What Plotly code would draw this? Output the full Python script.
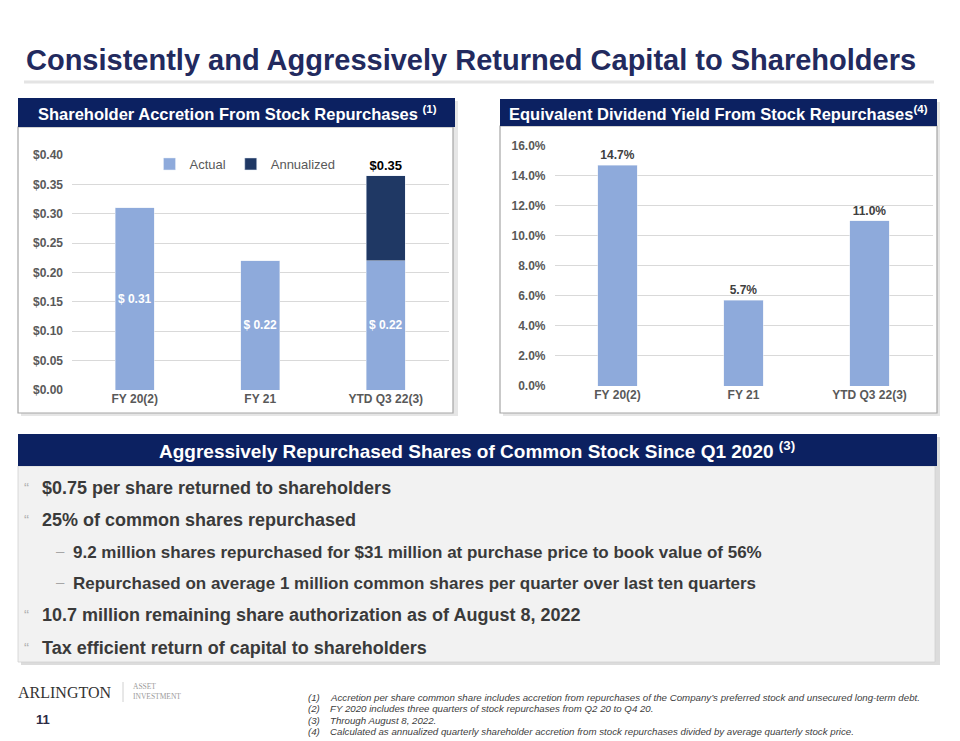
import plotly.graph_objects as go

W, H = 960, 741

# ---------------- data ----------------
categories = ["FY 20(2)", "FY 21", "YTD Q3 22(3)"]
accretion_actual = [0.31, 0.22, 0.22]
accretion_annualized = [None, None, 0.145]
accretion_actual_labels = ["$ 0.31", "$ 0.22", "$ 0.22"]
accretion_total_labels = [None, None, "$0.35"]
yield_pct = [14.7, 5.7, 11.0]
left_ticks = [0.00, 0.05, 0.10, 0.15, 0.20, 0.25, 0.30, 0.35, 0.40]
right_ticks = [0, 2, 4, 6, 8, 10, 12, 14, 16]
left_tick_text = ["$%.2f" % v for v in left_ticks]
right_tick_text = ["%.1f%%" % v for v in right_ticks]

bullets = [
    (0, "$0.75 per share returned to shareholders"),
    (0, "25% of common shares repurchased"),
    (1, "9.2 million shares repurchased for $31 million at purchase price to book value of 56%"),
    (1, "Repurchased on average 1 million common shares per quarter over last ten quarters"),
    (0, "10.7 million remaining share authorization as of August 8, 2022"),
    (0, "Tax efficient return of capital to shareholders"),
]
footnotes = [
    ("(1)", "Accretion per share common share includes accretion from repurchases of the Company\u2019s preferred stock and unsecured long-term debt."),
    ("(2)", "FY 2020 includes three quarters of stock repurchases from Q2 20 to Q4 20."),
    ("(3)", "Through August 8, 2022."),
    ("(4)", "Calculated as annualized quarterly shareholder accretion from stock repurchases divided by average quarterly stock price."),
]

# ---------------- styles ----------------
LIGHT = "#8eaadb"
DARK = "#1f3864"
NAVY = "#0c2161"
TITLE = "#222a5e"
GRID = "#d9d9d9"
TICK = "#595959"
FONT = "Liberation Sans"


def px_x(x):
    return x / W


def px_y(y):
    return 1 - y / H


fig = go.Figure()

fig.add_trace(go.Bar(
    x=categories, y=accretion_actual, name="Actual", marker_color=LIGHT,
    width=0.31, text=accretion_actual_labels, textposition="inside",
    insidetextanchor="middle", constraintext="none", textangle=0,
    textfont=dict(family=FONT, size=12, color="white", weight="bold"),
    xaxis="x", yaxis="y", hoverinfo="skip",
))
fig.add_trace(go.Bar(
    x=categories, y=accretion_annualized, name="Annualized", marker_color=DARK,
    width=0.31, text=accretion_total_labels, textposition="outside",
    constraintext="none", cliponaxis=False, textangle=0,
    textfont=dict(family=FONT, size=13, color="black", weight="bold"),
    xaxis="x", yaxis="y", hoverinfo="skip",
))
fig.add_trace(go.Bar(
    x=categories, y=yield_pct, name="Yield", marker_color=LIGHT, showlegend=False,
    width=0.31, texttemplate="%{y:.1f}%", textposition="outside",
    constraintext="none", cliponaxis=False, textangle=0,
    textfont=dict(family=FONT, size=12, color="#404040", weight="bold"),
    xaxis="x2", yaxis="y2", hoverinfo="skip",
))

tickfont = dict(family=FONT, size=12, color=TICK, weight="bold")

fig.update_layout(
    width=W, height=H,
    margin=dict(l=0, r=0, t=0, b=0, pad=0, autoexpand=False),
    paper_bgcolor="white", plot_bgcolor="rgba(0,0,0,0)",
    barmode="stack",
    font=dict(family=FONT),
    showlegend=True,
    legend=dict(
        orientation="h", x=px_x(245), y=px_y(164), xanchor="center", yanchor="middle",
        font=dict(family=FONT, size=13, color=TICK), itemwidth=30,
        bgcolor="rgba(0,0,0,0)", traceorder="normal",
    ),
    xaxis=dict(domain=[px_x(72), px_x(448.5)], showgrid=False, showline=False,
               ticks="", tickfont=tickfont, fixedrange=True, automargin=False),
    yaxis=dict(domain=[px_y(390), px_y(155)], range=[0, 0.40], tickmode="array",
               tickvals=left_ticks, ticktext=left_tick_text,
               showgrid=True, gridcolor=GRID, automargin=False,
               zeroline=False, ticks="", tickfont=tickfont, ticklabelstandoff=8),
    xaxis2=dict(domain=[px_x(554.5), px_x(932.5)], showgrid=False, showline=False,
                ticks="", tickfont=tickfont, anchor="y2", automargin=False),
    yaxis2=dict(domain=[px_y(386), px_y(145.7)], range=[0, 16], tickmode="array",
                tickvals=right_ticks, ticktext=right_tick_text,
                showgrid=True, gridcolor=GRID, automargin=False,
                zeroline=False, ticks="", tickfont=tickfont, anchor="x2",
                ticklabelstandoff=8),
)

shapes = []
annotations = []


def rect(x0, y0, x1, y1, fill, line=None, lw=0, layer="below"):
    shapes.append(dict(
        type="rect", xref="paper", yref="paper",
        x0=px_x(x0), x1=px_x(x1), y0=px_y(y1), y1=px_y(y0),
        fillcolor=fill, line=dict(color=line or fill, width=lw), layer=layer,
    ))


def text(x, y, s, size, color, weight="normal", style="normal", family=FONT,
         xanchor="left", yanchor="middle"):
    annotations.append(dict(
        xref="paper", yref="paper", x=px_x(x), y=px_y(y), text=s, showarrow=False,
        xanchor=xanchor, yanchor=yanchor, align="left",
        font=dict(family=family, size=size, color=color, weight=weight, style=style),
    ))


# Title + underline
text(24, 60, "Consistently and Aggressively Returned Capital to Shareholders", 29,
     TITLE, weight="bold")
rect(24, 80.5, 934, 83.5, "#e4e4e4")

# Left panel: shadow, frame, header
rect(21, 101, 458, 416, "#e6e6e6")
rect(18, 127, 453, 413, "white", line="#a6a6a6", lw=1.2)
rect(18, 98, 455, 127, NAVY)
text(237, 113, "Shareholder Accretion From Stock Repurchases <sup>(1)</sup>", 16.5,
     "white", weight="bold", xanchor="center")

# Right panel
rect(503, 102, 940, 416, "#e6e6e6")
rect(500, 126, 937, 413, "white", line="#a6a6a6", lw=1.2)
rect(500, 99, 937, 126, NAVY)
text(718, 113, "Equivalent Dividend Yield From Stock Repurchases<sup>(4)</sup>", 16.5,
     "white", weight="bold", xanchor="center")

# Bottom panel
rect(21, 437, 940, 665, "#dcdcdc")
rect(18, 466, 935, 662, "#f2f2f2", line="#d0d0d0", lw=0.8)
rect(18, 434, 937, 466, NAVY)
text(477, 450, "Aggressively Repurchased Shares of Common Stock Since Q1 2020 <sup>(3)</sup>",
     19, "white", weight="bold", xanchor="center")

line_y = [488, 520, 552, 583, 615, 648]
for (lvl, s), yy in zip(bullets, line_y):
    if lvl == 0:
        text(22, yy - 1, "\u201c", 15, "#b0b0b0")
        text(40, yy, s, 18, "#3a3a3a", weight="bold")
    else:
        text(54, yy - 2, "\u2013", 15, "#a6a6a6")
        text(71, yy, s, 17, "#3a3a3a", weight="bold")

# Footer logo
text(16, 692, "ARLINGTON", 16, "#333333", family="Liberation Serif")
shapes.append(dict(type="line", xref="paper", yref="paper",
                   x0=px_x(123), x1=px_x(123), y0=px_y(682), y1=px_y(702),
                   line=dict(color="#d0d0d0", width=1)))
text(131, 691, "ASSET<br>INVESTMENT", 7.5, "#9a9a9a", family="Liberation Serif")
text(34, 719, "11", 13, "#2b2b45", weight="bold")

# Footnotes
for (num, s), yy in zip(footnotes, [697, 708.5, 720, 731.5]):
    text(306, yy, num, 9.7, "#404040", style="italic")
    text(328, yy, s, 9.7, "#404040", style="italic")

fig.update_layout(shapes=shapes, annotations=annotations)

fig.write_html("out.html", config={"displayModeBar": False},
               post_script="document.body.style.margin='0px';")
